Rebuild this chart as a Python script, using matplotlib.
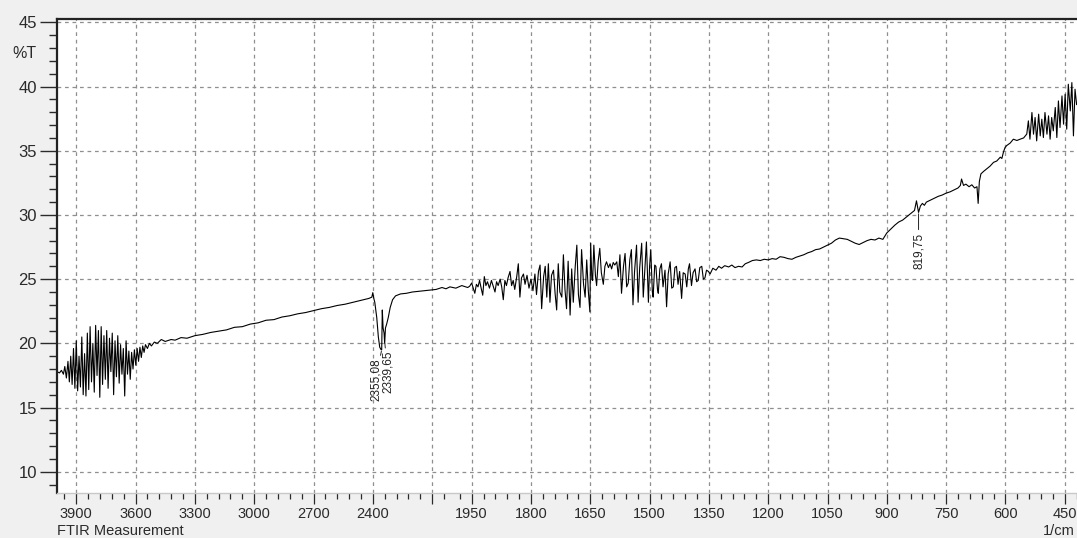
import numpy as np
import matplotlib.pyplot as plt
from matplotlib.ticker import FixedLocator, MultipleLocator

plt.rcParams['font.family'] = ['Liberation Sans', 'DejaVu Sans']

# ---- spectrum: (wavenumber 1/cm, %T) ----
# noisy start 4000-3470
seg_left = [
    (3998, 17.8), (3985, 17.7), (3975, 17.9), (3965, 17.6), (3958, 18.2),
    (3950, 17.3), (3942, 18.6), (3935, 17.0), (3928, 19.0), (3921, 16.8),
    (3914, 19.6), (3907, 16.5), (3900, 20.2), (3893, 16.3), (3886, 19.0),
    (3879, 16.6), (3872, 20.5), (3865, 16.0), (3858, 19.2), (3851, 15.9),
    (3844, 20.8), (3837, 16.4), (3830, 21.3), (3823, 17.0), (3816, 20.0),
    (3809, 16.2), (3802, 21.4), (3795, 17.5), (3788, 21.0), (3781, 15.8),
    (3774, 21.3), (3767, 16.8), (3760, 20.6), (3753, 17.2), (3746, 21.0),
    (3739, 16.5), (3732, 20.4), (3725, 17.8), (3718, 20.8), (3711, 16.0),
    (3704, 20.2), (3697, 17.4), (3690, 20.6), (3683, 16.9), (3676, 19.9),
    (3669, 17.6), (3662, 19.6), (3655, 15.9), (3648, 20.2), (3641, 17.6),
    (3634, 19.4), (3627, 17.2), (3620, 19.3), (3613, 18.0), (3606, 19.5),
    (3599, 18.3), (3592, 19.6), (3585, 18.6), (3578, 19.7), (3571, 18.9),
    (3564, 19.8), (3557, 19.3), (3550, 19.9), (3540, 19.6), (3530, 20.0),
    (3520, 19.8), (3505, 20.1), (3490, 20.0), (3470, 20.3),
]
# smooth rise 3450-2395
seg_base = [
    (3450, 20.15), (3420, 20.3), (3400, 20.25), (3370, 20.45), (3340, 20.4),
    (3300, 20.6), (3260, 20.7), (3220, 20.85), (3180, 20.95), (3140, 21.05),
    (3100, 21.25), (3060, 21.3), (3020, 21.5), (2980, 21.6), (2940, 21.8),
    (2900, 21.85), (2860, 22.05), (2820, 22.15), (2780, 22.3), (2740, 22.4),
    (2700, 22.55), (2660, 22.7), (2620, 22.8), (2580, 22.95), (2540, 23.05),
    (2500, 23.2), (2460, 23.35), (2420, 23.5), (2405, 23.6), (2400, 23.95),
    (2395, 23.5),
]
# CO2 doublet and flat part down to 1960
seg_co2 = [
    (2390, 23.2), (2380, 22.0), (2372, 20.5), (2365, 19.7), (2358, 19.5),
    (2355, 19.5), (2352, 22.6), (2348, 21.2), (2343, 20.8), (2340, 20.0),
    (2336, 21.2), (2330, 21.5), (2322, 22.0), (2312, 22.8), (2300, 23.4),
    (2285, 23.7), (2260, 23.85), (2230, 23.9), (2200, 24.0), (2170, 24.05),
    (2140, 24.1), (2110, 24.15), (2080, 24.2), (2050, 24.35), (2030, 24.25),
    (2010, 24.4), (1990, 24.3), (1975, 24.5), (1960, 24.35),
]
# noisy middle 1955-1347
seg_mid = [
    (1955, 24.45), (1950, 24.7), (1946, 24.3), (1942, 23.9), (1938, 24.6),
    (1934, 24.4), (1930, 24.9), (1926, 24.3), (1922, 23.75), (1918, 25.2),
    (1914, 24.5), (1910, 24.8), (1905, 24.3), (1900, 24.9), (1895, 24.4),
    (1891, 24.0), (1887, 24.8), (1883, 24.5), (1878, 25.0), (1874, 24.4),
    (1870, 23.4), (1866, 24.9), (1862, 24.5), (1858, 25.1), (1853, 25.6),
    (1849, 24.5), (1845, 24.9), (1841, 24.2), (1836, 25.2), (1832, 26.2),
    (1828, 23.6), (1824, 25.1), (1819, 25.4), (1815, 24.6), (1810, 25.3),
    (1805, 24.3), (1800, 25.0), (1795, 24.1), (1790, 25.4), (1786, 23.8),
    (1781, 25.6), (1777, 26.1), (1773, 22.7), (1768, 25.2), (1764, 26.0),
    (1760, 23.6), (1756, 26.2), (1752, 23.2), (1748, 25.3), (1743, 25.7),
    (1739, 23.9), (1735, 22.6), (1731, 26.2), (1727, 24.0), (1722, 23.6),
    (1718, 26.9), (1714, 24.2), (1710, 22.7), (1706, 26.4), (1701, 22.2),
    (1697, 25.8), (1693, 23.2), (1688, 26.0), (1684, 27.65), (1680, 23.8),
    (1676, 22.8), (1672, 27.3), (1667, 24.6), (1663, 23.6), (1659, 26.5),
    (1655, 24.1), (1651, 22.45), (1649, 27.8), (1646, 25.0), (1644, 24.9),
    (1641, 27.65), (1637, 25.3), (1634, 24.5), (1630, 26.4), (1626, 27.4),
    (1622, 25.5), (1617, 24.6), (1613, 26.0), (1609, 26.35), (1604, 25.9),
    (1600, 26.2), (1596, 25.8), (1592, 26.3), (1588, 26.1), (1583, 26.35),
    (1579, 25.2), (1575, 26.9), (1571, 23.9), (1566, 26.0), (1562, 27.0),
    (1558, 24.4), (1554, 24.7), (1550, 26.5), (1546, 27.3), (1542, 23.0),
    (1538, 25.6), (1533, 27.65), (1529, 23.2), (1525, 25.9), (1520, 27.8),
    (1516, 23.6), (1512, 25.8), (1508, 27.9), (1503, 23.2), (1500, 26.0),
    (1497, 27.3), (1493, 24.0), (1491, 23.6), (1487, 26.1), (1484, 26.0),
    (1480, 24.2), (1478, 23.9), (1474, 25.8), (1470, 26.2), (1466, 24.4),
    (1461, 25.7), (1457, 22.85), (1453, 25.4), (1448, 26.35), (1444, 24.3),
    (1440, 24.4), (1436, 25.9), (1432, 26.0), (1428, 24.6), (1424, 25.6),
    (1419, 23.5), (1415, 25.5), (1410, 25.4), (1406, 24.4), (1402, 25.8),
    (1399, 26.2), (1394, 24.5), (1390, 25.5), (1385, 25.8), (1381, 24.8),
    (1377, 24.9), (1373, 25.9), (1368, 26.0), (1364, 25.0), (1360, 25.1),
    (1356, 25.7), (1351, 25.6), (1347, 25.4),
]
# fingerprint region 1340-546
seg_fp = [
    (1340, 25.85), (1332, 25.7), (1325, 26.0), (1318, 25.85), (1310, 26.05),
    (1300, 25.95), (1292, 26.1), (1284, 25.9), (1275, 26.0), (1266, 25.95),
    (1258, 26.2), (1250, 26.3), (1240, 26.45), (1230, 26.5), (1220, 26.45),
    (1210, 26.55), (1200, 26.5), (1190, 26.6), (1180, 26.55), (1170, 26.75),
    (1160, 26.7), (1150, 26.6), (1140, 26.55), (1130, 26.7), (1120, 26.8),
    (1110, 26.9), (1100, 27.05), (1090, 27.15), (1080, 27.3), (1070, 27.35),
    (1060, 27.5), (1050, 27.65), (1040, 27.8), (1030, 28.05), (1020, 28.2),
    (1010, 28.15), (1000, 28.1), (990, 27.95), (980, 27.8), (970, 27.7),
    (960, 27.85), (950, 28.0), (940, 28.1), (930, 28.05), (920, 28.2),
    (910, 28.1), (900, 28.6), (890, 28.9), (880, 29.2), (870, 29.45),
    (860, 29.6), (850, 29.85), (840, 30.1), (830, 30.35), (825, 31.1),
    (822, 30.6), (819.75, 30.2), (815, 30.7), (810, 30.9), (805, 30.75),
    (800, 31.0), (790, 31.15), (780, 31.3), (770, 31.45), (760, 31.55),
    (750, 31.7), (740, 31.8), (730, 31.95), (720, 32.1), (714, 32.3),
    (711, 32.8), (706, 32.3), (700, 32.4), (692, 32.2), (685, 32.35),
    (678, 32.1), (672, 32.2), (669, 30.9), (666, 32.6), (662, 33.2),
    (655, 33.4), (647, 33.6), (639, 33.8), (630, 34.1), (622, 34.2),
    (613, 34.5), (609, 34.4), (605, 34.9), (601, 35.25), (597, 35.4),
    (588, 35.6), (580, 35.9), (571, 35.8), (563, 35.9), (554, 36.0),
    (546, 36.3),
]
# noisy end 542-419
seg_right = [
    (542, 37.33), (538, 35.9), (533, 37.98), (529, 36.29), (525, 37.59),
    (521, 35.77), (516, 37.85), (512, 36.16), (508, 37.46), (504, 36.03),
    (500, 37.98), (495, 36.29), (491, 37.72), (487, 35.9), (483, 37.59),
    (479, 36.55), (474, 38.37), (470, 36.03), (466, 38.88), (462, 36.81),
    (457, 39.27), (453, 37.07), (449, 39.4), (445, 36.68), (441, 40.18),
    (436, 38.1), (432, 40.31), (428, 36.16), (424, 39.79), (420, 38.6),
]

peak_wn = [2355.08, 2339.65, 819.75]
peak_text = ['2355,08', '2339,65', '819,75']
peak_offset = [(-4.5, -6.0), (2.0, -6.3), (0.0, -14.4)]   # label offset, points

major_wn = [3900, 3600, 3300, 3000, 2700, 2400, 2100,
            1950, 1800, 1650, 1500, 1350, 1200, 1050, 900, 750, 600, 450]
major_lab = ['3900', '3600', '3300', '3000', '2700', '2400', '',
             '1950', '1800', '1650', '1500', '1350', '1200', '1050', '900', '750', '600', '450']

pairs = seg_left + seg_base + seg_co2 + seg_mid + seg_fp + seg_right
wn = np.array([p[0] for p in pairs], dtype=float)
tr = np.array([p[1] for p in pairs], dtype=float)


# shimadzu style axis: half scale above 2000 1/cm
def fwd(w):
    w = np.asarray(w, dtype=float)
    return np.where(w > 2000, 2000 + (w - 2000) / 2.0, w)


def inv(u):
    u = np.asarray(u, dtype=float)
    return np.where(u > 2000, 2000 + (u - 2000) * 2.0, u)


fig = plt.figure(figsize=(10.77, 5.38), dpi=100, facecolor='#f0f0f0')
ax = fig.add_axes([56.5 / 1077, 1 - 492.7 / 538, 1 - 56.5 / 1077, (492.7 - 18.5) / 538])
ax.set_facecolor('white')
ax.set_xscale('function', functions=(fwd, inv))
ax.set_xlim(4000, 419)
ax.set_ylim(8.37, 45.3)

ax.plot(wn, tr, color='black', lw=0.8)

# peak labels
for w0, txt, off in zip(peak_wn, peak_text, peak_offset):
    y0 = np.interp(w0, wn[::-1], tr[::-1])
    ax.annotate(txt, xy=(w0, y0), xytext=off, textcoords='offset points',
                rotation=90, ha='center', va='top', fontsize=8.5, color='#222',
                arrowprops=dict(arrowstyle='-', lw=0.7, color='#222',
                                shrinkA=0, shrinkB=1))

# ticks
minor_wn = [w for w in range(3960, 2000, -60) if w not in major_wn] + \
           [w for w in range(1980, 419, -30) if w not in major_wn]
ax.xaxis.set_major_locator(FixedLocator(major_wn))
ax.xaxis.set_minor_locator(FixedLocator(minor_wn))
ax.set_xticklabels(major_lab)
ax.yaxis.set_major_locator(MultipleLocator(5))
ax.yaxis.set_minor_locator(MultipleLocator(1))

ax.tick_params(axis='x', which='major', length=8, width=0.9, pad=2, labelsize=10.5,
               colors='#2a2a2a', direction='out')
ax.tick_params(axis='x', which='minor', length=4, width=0.9, colors='#2a2a2a')
ax.tick_params(axis='y', which='major', length=12.2, width=1.0, pad=2, labelsize=12,
               colors='#2a2a2a', direction='out')
ax.tick_params(axis='y', which='minor', length=6, width=1.0, colors='#2a2a2a')

ax.grid(which='major', linestyle=(0, (3, 3)), color='#8f8f8f', lw=0.9)

ax.spines['right'].set_visible(False)
ax.spines['top'].set_color('#222')
ax.spines['top'].set_linewidth(1.6)
ax.spines['left'].set_color('#222')
ax.spines['left'].set_linewidth(1.6)
ax.spines['bottom'].set_color('#c8c8c8')
ax.spines['bottom'].set_linewidth(1.0)

fig.text(12 / 1077, 1 - 53.5 / 538, '%T', fontsize=11.5, color='#2a2a2a', va='center', ha='left')
fig.text(57 / 1077, 1 - 531 / 538, 'FTIR Measurement', fontsize=10.5, color='#2a2a2a',
         va='center', ha='left')
fig.text(1075 / 1077, 1 - 531 / 538, '1/cm', fontsize=10.5, color='#2a2a2a',
         va='center', ha='right')

fig.savefig('out.png', dpi=100, facecolor=fig.get_facecolor())
